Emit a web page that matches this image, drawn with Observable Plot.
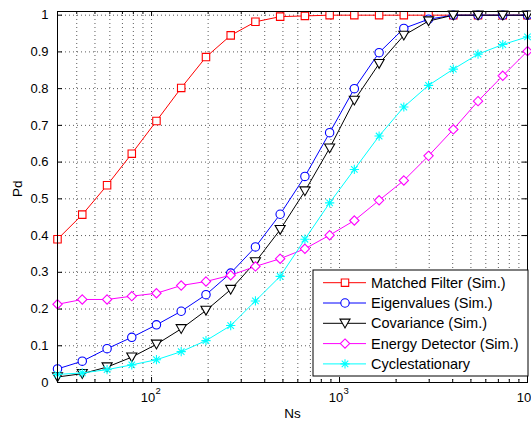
<!DOCTYPE html>
<html><head><meta charset="utf-8">
<script src="https://cdn.jsdelivr.net/npm/d3@7"></script>
<script src="https://cdn.jsdelivr.net/npm/@observablehq/plot@0.6"></script>
<style>
body{margin:0;background:#fff}
svg{font-family:"Liberation Sans",Arial,Helvetica,sans-serif}
</style>
</head><body><div id="chart"></div>
<script>
const ns = [31.6, 42.8, 58.0, 78.5, 106.2, 143.8, 194.8, 263.7, 357.0, 483.3, 654.4, 885.9, 1199, 1624, 2198, 2976, 4030, 5456, 7386, 10000];
const matched = [0.390, 0.457, 0.537, 0.623, 0.712, 0.802, 0.886, 0.945, 0.982, 0.996, 0.998, 1, 1, 1, 1, 1, 1, 1, 1, 1];
const eigen = [0.037, 0.058, 0.092, 0.123, 0.157, 0.194, 0.239, 0.298, 0.369, 0.458, 0.561, 0.680, 0.800, 0.898, 0.964, 0.989, 1, 1, 1, 1];
const covar = [0.015, 0.024, 0.042, 0.069, 0.104, 0.146, 0.196, 0.253, 0.328, 0.416, 0.521, 0.638, 0.768, 0.868, 0.945, 0.984, 1, 1, 1, 1];
const energy = [0.213, 0.226, 0.226, 0.235, 0.243, 0.264, 0.275, 0.292, 0.316, 0.337, 0.364, 0.401, 0.441, 0.496, 0.550, 0.617, 0.689, 0.766, 0.835, 0.902];
const cyclo = [0.022, 0.026, 0.035, 0.048, 0.062, 0.084, 0.114, 0.155, 0.222, 0.289, 0.390, 0.489, 0.580, 0.671, 0.750, 0.809, 0.853, 0.894, 0.920, 0.941];

const seriesNames = ["Matched Filter (Sim.)", "Eigenvalues (Sim.)", "Covariance (Sim.)", "Energy Detector (Sim.)", "Cyclestationary"];
const seriesColors = ["#ff0000", "#0000ff", "#000000", "#ff00ff", "#00ffff"];
const seriesValues = [matched, eigen, covar, energy, cyclo];

const yTicks = [0, 0.1, 0.2, 0.3, 0.4, 0.5, 0.6, 0.7, 0.8, 0.9, 1];
const yTickLabels = ["0", "0.1", "0.2", "0.3", "0.4", "0.5", "0.6", "0.7", "0.8", "0.9", "1"];
const xMajor = [100, 1000, 10000];
const xMajorBase = ["10", "10", "10"];
const xMajorExp = ["2", "3", "4"];
const xMinor = [40, 50, 60, 70, 80, 90, 200, 300, 400, 500, 600, 700, 800, 900, 2000, 3000, 4000, 5000, 6000, 7000, 8000, 9000];

// custom symbols
const triDown = {draw(ctx, size) {
  const r = Math.sqrt(size / Math.PI);
  const w = r * 1.2, h = r * 1.0;
  ctx.moveTo(-w, -h); ctx.lineTo(w, -h); ctx.lineTo(0, h * 1.1); ctx.closePath();
}};
const star8 = {draw(ctx, size) {
  const a = Math.sqrt(size / Math.PI) * 1.1, d = a * 0.7071;
  ctx.moveTo(-a, 0); ctx.lineTo(a, 0);
  ctx.moveTo(0, -a); ctx.lineTo(0, a);
  ctx.moveTo(-d, -d); ctx.lineTo(d, d);
  ctx.moveTo(-d, d); ctx.lineTo(d, -d);
}};
const seriesSymbols = ["square", "circle", triDown, "diamond2", star8];

const rows = [];
seriesValues.forEach((vals, i) => vals.forEach((v, j) => rows.push({series: seriesNames[i], idx: i, ns: ns[j], pd: v})));
const yRows = yTicks.map((v, i) => ({v, label: yTickLabels[i]}));
const xRows = xMajor.map((v, i) => ({v, base: xMajorBase[i], exp: xMajorExp[i]}));

const W = 531, H = 425, mL = 57, mR = 4, mT = 11, mB = 43;
const fw = W - mL - mR, fh = H - mT - mB;

const marks = [];
// grid
marks.push(Plot.ruleX(xMajor.concat(xMinor).filter(d => d < 10000), {stroke: "#333", strokeWidth: 1, strokeDasharray: "1,3", strokeOpacity: 0.8}));
marks.push(Plot.ruleY(yTicks.filter(d => d > 0), {stroke: "#333", strokeWidth: 1, strokeDasharray: "1,3", strokeOpacity: 0.8}));
// inner ticks
marks.push(Plot.tickY(yTicks, {y: d => d, insetRight: fw - 5, stroke: "black"}));
marks.push(Plot.tickY(yTicks, {y: d => d, insetLeft: fw - 5, stroke: "black"}));
marks.push(Plot.tickX(xMajor, {x: d => d, insetTop: fh - 5, stroke: "black"}));
marks.push(Plot.tickX(xMajor, {x: d => d, insetBottom: fh - 5, stroke: "black"}));
marks.push(Plot.tickX(xMinor, {x: d => d, insetTop: fh - 3, stroke: "black"}));
marks.push(Plot.tickX(xMinor, {x: d => d, insetBottom: fh - 3, stroke: "black"}));
// lines and markers
seriesNames.forEach((name, i) => {
  const data = rows.filter(r => r.idx === i);
  marks.push(Plot.line(data, {x: "ns", y: "pd", stroke: seriesColors[i], strokeWidth: 1}));
  marks.push(Plot.dot(data, {x: "ns", y: "pd", stroke: seriesColors[i], fill: i === 4 ? "none" : "white", strokeWidth: 1.1, r: 4.2, symbol: seriesSymbols[i]}));
});
marks.push(Plot.frame({stroke: "black", strokeWidth: 1}));
// tick labels
marks.push(Plot.text(yRows, {y: "v", text: "label", frameAnchor: "left", textAnchor: "end", dx: -9, fontSize: 13}));
marks.push(Plot.text(xRows, {x: "v", text: "base", frameAnchor: "bottom", lineAnchor: "top", dy: 10, dx: -3.5, fontSize: 13}));
marks.push(Plot.text(xRows, {x: "v", text: "exp", frameAnchor: "bottom", lineAnchor: "top", dy: 5, dx: 6.5, fontSize: 9.5}));
// axis titles
marks.push(Plot.text(["Ns"], {frameAnchor: "bottom", dy: 35, fontSize: 13.5, text: d => d}));
marks.push(Plot.text(["Pd"], {frameAnchor: "left", dx: -40, rotate: -90, fontSize: 13.5, text: d => d}));

const chart = Plot.plot({
  width: W, height: H,
  marginLeft: mL, marginRight: mR, marginTop: mT, marginBottom: mB,
  style: {fontFamily: '"Liberation Sans", Arial, sans-serif', background: "white", color: "black", overflow: "hidden"},
  x: {type: "log", domain: [31.6, 10000], axis: null},
  y: {domain: [0, 1.01], axis: null},
  marks
});
document.getElementById("chart").appendChild(chart);

// legend (layout only)
const svg = d3.select(chart);
const lg = svg.append("g").attr("font-size", 14.5).attr("text-anchor", "start").attr("font-family", '"Liberation Sans", Arial, sans-serif');
const lx = 313, ly = 270, lw = 215, lh = 106;
lg.append("rect").attr("x", lx).attr("y", ly).attr("width", lw).attr("height", lh).attr("fill", "white").attr("stroke", "black").attr("stroke-width", 1);
const d3Syms = [d3.symbolSquare, d3.symbolCircle, triDown, d3.symbolDiamond2, star8];
seriesNames.forEach((name, i) => {
  const cy = ly + 12.7 + i * 20.3;
  lg.append("line").attr("x1", lx + 10).attr("x2", lx + 53).attr("y1", cy).attr("y2", cy).attr("stroke", seriesColors[i]).attr("stroke-width", 1);
  lg.append("path").attr("transform", `translate(${lx + 32},${cy})`)
    .attr("d", d3.symbol(d3Syms[i], Math.PI * 4.2 * 4.2)())
    .attr("fill", i === 4 ? "none" : "white").attr("stroke", seriesColors[i]).attr("stroke-width", 1.1);
  lg.append("text").attr("x", lx + 58).attr("y", cy).attr("dy", "0.35em").attr("fill", "black").text(name);
});
</script>
</body></html>
